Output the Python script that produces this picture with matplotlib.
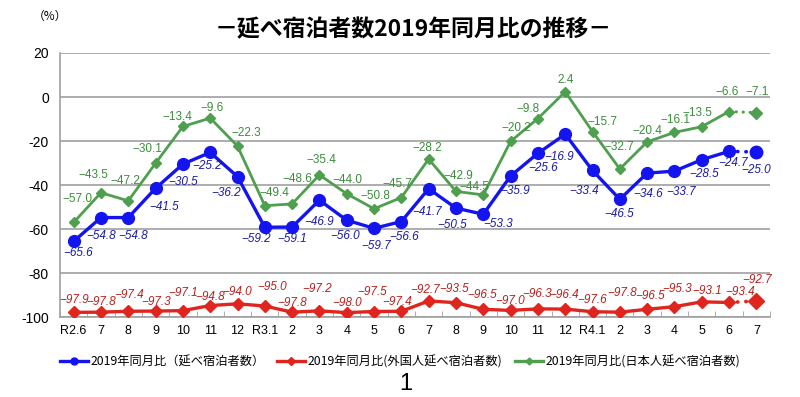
import matplotlib
matplotlib.use("Agg")
import matplotlib.pyplot as plt
import numpy as np

plt.rcParams['font.family'] = ['Noto Sans CJK JP', 'DejaVu Sans']

# --- données ---
months = ['R2.6', '7', '8', '9', '10', '11', '12', 'R3.1', '2', '3', '4', '5', '6',
          '7', '8', '9', '10', '11', '12', 'R4.1', '2', '3', '4', '5', '6', '7']

total = [-65.6, -54.8, -54.8, -41.5, -30.5, -25.2, -36.2, -59.2, -59.1, -46.9, -56.0,
         -59.7, -56.6, -41.7, -50.5, -53.3, -35.9, -25.6, -16.9, -33.4, -46.5, -34.6,
         -33.7, -28.5, -24.7, -25.0]
foreign = [-97.9, -97.8, -97.4, -97.3, -97.1, -94.8, -94.0, -95.0, -97.8, -97.2, -98.0,
           -97.5, -97.4, -92.7, -93.5, -96.5, -97.0, -96.3, -96.4, -97.6, -97.8, -96.5,
           -95.3, -93.1, -93.4, -92.7]
japanese = [-57.0, -43.5, -47.2, -30.1, -13.4, -9.6, -22.3, -49.4, -48.6, -35.4, -44.0,
            -50.8, -45.7, -28.2, -42.9, -44.5, -20.2, -9.8, 2.4, -15.7, -32.7, -20.4,
            -16.1, -13.5, -6.6, -7.1]

legend_labels = ['2019年同月比（延べ宿泊者数）',
                 '2019年同月比(外国人延べ宿泊者数)',
                 '2019年同月比(日本人延べ宿泊者数)']

# décalages des étiquettes (pixels, y vers le bas)
off_total = [(4, 12), (0, 18), (5, 18), (8, 19), (0, 18), (-3, 14), (-11, 16), (-9, 12),
             (0, 12), (0, 22), (-2, 16), (2, 18), (3, 15), (-2, 23), (-4, 17), (15, 10),
             (4, 15), (5, 15), (-6, 23), (-8, 21), (-1, 15), (1, 21), (7, 21), (2, 14),
             (4, 12), (0, 18)]
off_japan = [(4, -23), (-8, -18), (-3, -20), (-8, -14), (-5, -9), (2, -10), (9, -13),
             (10, -13), (5, -25), (2, -15), (1, -14), (1, -13), (-4, -14), (-1, -11),
             (2, -15), (-9, -8), (6, -13), (-10, -10), (0, -12), (10, -10), (0, -22),
             (0, -11), (1, -12), (-4, -14), (-2, -20), (1, -21)]
off_foreign = [(0, -12), (0, -10), (1, -16), (0, -9), (0, -18), (0, -9), (0, -12),
               (7, -19), (0, -9), (-2, -22), (0, -10), (-2, -20), (-4, -9), (-4, -11),
               (-2, -14), (-1, -14), (-1, -9), (-1, -15), (-1, -14), (0, -12), (2, -19),
               (3, -13), (3, -18), (5, -11), (11, -10), (1, -21)]

BLUE = '#1414F0'
RED = '#E0241E'
GREEN = '#4E9F4E'

fig = plt.figure(figsize=(8, 3.97), dpi=100)
ax = fig.add_axes([0.075, 0.2015, 0.8875, 0.665])

x = np.arange(len(months))
n = len(months)


def tracer(vals, color, marker, ms, lw, last_ms):
    # segment plein jusqu'à l'avant-dernier mois, puis pointillé vers le dernier
    ax.plot(x[:n - 1], vals[:n - 1], color=color, marker=marker, markersize=ms,
            linewidth=lw, zorder=3)
    ax.plot(x[n - 2:], vals[n - 2:], color=color, linestyle=(0, (0.1, 2.2)),
            linewidth=lw * 1.1, dash_capstyle='round', zorder=3)
    ax.plot(x[n - 1:], vals[n - 1:], color=color, marker=marker, markersize=last_ms,
            linestyle='none', zorder=3)


tracer(japanese, GREEN, 'D', 5.5, 2.0, 6.5)
tracer(total, BLUE, 'o', 8.5, 2.4, 9)
tracer(foreign, RED, 'D', 6.5, 2.4, 8)

lab_font = ['Liberation Sans', 'DejaVu Sans']
for vals, offs, col, style in [(total, off_total, '#1A1AA6', 'italic'),
                               (japanese, off_japan, '#3C8C3C', 'normal'),
                               (foreign, off_foreign, '#B8201C', 'italic')]:
    for i, v in enumerate(vals):
        dx, dy = offs[i]
        ax.annotate(f"{v:.1f}".replace('-', '\u2212'), (x[i], v), xytext=(dx, -dy),
                    textcoords='offset pixels', ha='center', va='center',
                    fontsize=8.5, color=col, style=style, family=lab_font, zorder=4)

ax.set_xlim(-0.5, n - 0.5)
ax.set_ylim(-100, 20)
ax.set_yticks([20, 0, -20, -40, -60, -80, -100])
ax.set_yticklabels(['20', '0', '-20', '-40', '-60', '-80', '-100'],
                   family=['Liberation Sans', 'DejaVu Sans'], fontsize=10)
ax.yaxis.grid(True, color='#A0A0A0', linewidth=1.2)
ax.set_axisbelow(True)

ax.set_xticks(x)
ax.set_xticklabels(months, family=['Liberation Sans', 'DejaVu Sans'], fontsize=9)
ax.set_xticks(np.arange(-0.5, n, 1), minor=True)
ax.tick_params(axis='x', which='major', length=0, pad=6)
ax.tick_params(axis='x', which='minor', length=4, direction='in', color='#A0A0A0')
ax.tick_params(axis='y', length=0, pad=8)

for s in ['top', 'right']:
    ax.spines[s].set_visible(False)
ax.spines['left'].set_color('#A0A0A0')
ax.spines['bottom'].set_color('#A0A0A0')
ax.spines['left'].set_linewidth(1.2)
ax.spines['bottom'].set_linewidth(1.2)

fig.text(0.516, 0.925, '－延べ宿泊者数2019年同月比の推移－', ha='center', va='center',
         fontsize=16.5, fontweight='bold')
fig.text(0.0625, 0.958, '（%）', ha='center', va='center', fontsize=8.5)

handles = [
    plt.Line2D([], [], color=BLUE, marker='o', markersize=5, linewidth=2.4),
    plt.Line2D([], [], color=RED, marker='D', markersize=4, linewidth=2.4),
    plt.Line2D([], [], color=GREEN, marker='D', markersize=3.5, linewidth=2.4),
]
fig.legend(handles, legend_labels, loc='center', bbox_to_anchor=(0.5, 0.088), ncol=3,
           frameon=False, fontsize=8.8, handlelength=2.3, handletextpad=0.2,
           columnspacing=1.0)

fig.text(0.507, 0.005, '1', ha='center', va='bottom', fontsize=17,
         family=['Liberation Sans', 'DejaVu Sans'])

fig.savefig('out.png', dpi=100)
